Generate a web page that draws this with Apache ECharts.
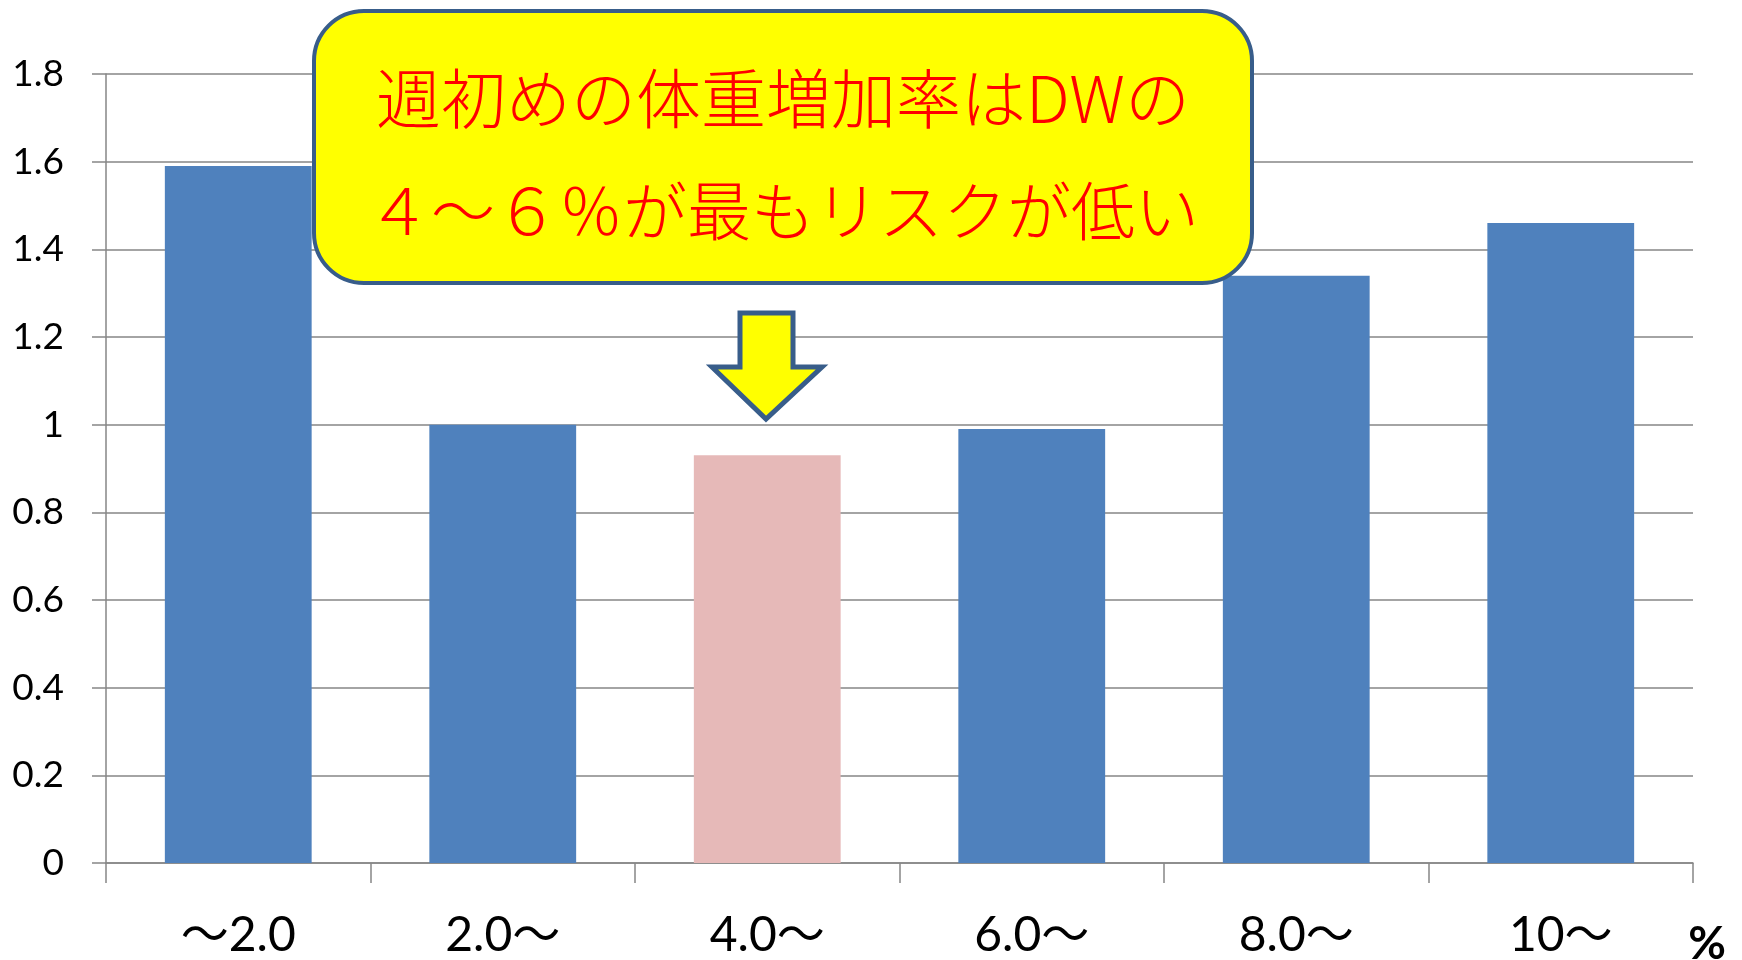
<!DOCTYPE html>
<html><head><meta charset="utf-8">
<script src="https://cdn.jsdelivr.net/npm/echarts@6/dist/echarts.min.js"></script>
<style>html,body{margin:0;padding:0;background:#fff}#c{width:1742px;height:960px}</style>
</head><body><div id="c"></div>
<script>
const categories = ['〜2.0', '2.0〜', '4.0〜', '6.0〜', '8.0〜', '10〜'];
const values = [1.59, 1.00, 0.93, 0.99, 1.34, 1.46];
const highlightIndex = 2;
const yTicks = { min: 0, max: 1.8, interval: 0.2 };
const calloutLines = ['週初めの体重増加率はDWの', '４〜６％が最もリスクが低い'];
const unitLabel = '%';

const chart = echarts.init(document.getElementById('c'));
const latin = 'Lato, "Noto Sans CJK JP", sans-serif';
chart.setOption({
  animation: false,
  grid: { left: 106, right: 49, top: 74, bottom: 96 },
  xAxis: {
    type: 'category', data: categories,
    axisLine: { lineStyle: { color: '#868686', width: 1.5 } },
    axisTick: { show: true, length: 20, lineStyle: { color: '#868686', width: 1.5 } },
    axisLabel: { color: '#000', fontSize: 48, fontFamily: latin, margin: 73, verticalAlign: 'middle' }
  },
  yAxis: {
    type: 'value', min: yTicks.min, max: yTicks.max, interval: yTicks.interval,
    axisLine: { show: true, lineStyle: { color: '#868686', width: 1.5 } },
    axisTick: { show: true, length: 14, lineStyle: { color: '#868686', width: 1.5 } },
    splitLine: { lineStyle: { color: '#868686', width: 1.5 } },
    axisLabel: { color: '#000', fontSize: 37, fontFamily: latin, margin: 42,
      formatter: v => String(Math.round(v * 10) / 10) }
  },
  series: [{
    type: 'bar', barWidth: '55.5%',
    data: values.map((v, i) => ({ value: v, itemStyle: { color: i === highlightIndex ? '#E6B9B8' : '#4F81BD' } }))
  }],
  graphic: [
    { type: 'rect', shape: { x: 314, y: 11, width: 938, height: 272, r: 50 },
      style: { fill: '#FFFF00', stroke: '#385D8A', lineWidth: 4 }, z: 100 },
    { type: 'text', x: 783, y: 98, z: 101,
      style: { text: calloutLines[0], fill: '#FF0000', font: '300 65px "Noto Sans CJK JP"', align: 'center', verticalAlign: 'middle' } },
    { type: 'text', x: 783, y: 211, z: 101,
      style: { text: calloutLines[1], fill: '#FF0000', font: '300 64px "Noto Sans CJK JP"', align: 'center', verticalAlign: 'middle' } },
    { type: 'polygon', z: 100,
      shape: { points: [[740, 313], [793, 313], [793, 367], [822, 367], [766, 419], [712, 367], [740, 367]] },
      style: { fill: '#FFFF00', stroke: '#385D8A', lineWidth: 5, lineJoin: 'miter' } },
    { type: 'text', x: 1707, y: 944, z: 101,
      style: { text: unitLabel, fill: '#000', font: 'bold 46px Lato', align: 'center', verticalAlign: 'middle' } }
  ]
});
</script></body></html>
